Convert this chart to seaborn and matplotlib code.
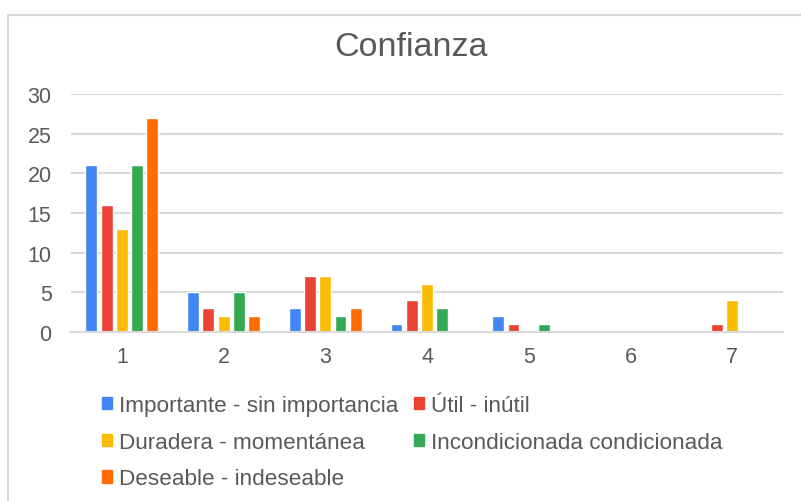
import pandas as pd
import matplotlib.pyplot as plt
import matplotlib.patches as mpatches
import seaborn as sns

# Data
categories = ["1", "2", "3", "4", "5", "6", "7"]
series_names = [
    "Importante - sin importancia",
    "Útil - inútil",
    "Duradera - momentánea",
    "Incondicionada condicionada",
    "Deseable - indeseable",
]
importante = [21, 5, 3, 1, 2, 0, 0]
util = [16, 3, 7, 4, 1, 0, 1]
duradera = [13, 2, 7, 6, 0, 0, 4]
incondicionada = [21, 5, 2, 3, 1, 0, 0]
deseable = [27, 2, 3, 0, 0, 0, 0]
colors = ["#4285F4", "#EA4335", "#FBBC04", "#34A853", "#FF6D01"]


def main():
    values = [importante, util, duradera, incondicionada, deseable]
    rows = []
    for name, vals in zip(series_names, values):
        for cat, v in zip(categories, vals):
            rows.append({"cat": cat, "serie": name, "valor": v})
    df = pd.DataFrame(rows)

    sns.set_style("white")
    plt.rcParams["font.family"] = ["Liberation Sans", "DejaVu Sans"]

    fig = plt.figure(figsize=(8.01, 5.02), dpi=100)
    ax = fig.add_axes([71 / 801, 1 - 333 / 502, 712 / 801, 238 / 502])

    sns.barplot(data=df, x="cat", y="valor", hue="serie", order=categories,
                hue_order=series_names, palette=colors, width=0.75, gap=0.22,
                saturation=1, ax=ax, legend=False)

    ax.set_xlim(-0.5, 6.5)
    ax.set_ylim(0, 30)
    ax.set_yticks(range(0, 31, 5))
    ax.yaxis.grid(True, color="#D9D9D9", linewidth=1.5)
    ax.set_axisbelow(True)
    for s in ["top", "right", "left"]:
        ax.spines[s].set_visible(False)
    ax.spines["bottom"].set_color("#D9D9D9")
    ax.spines["bottom"].set_linewidth(1.5)
    ax.tick_params(length=0, labelsize=15.5, labelcolor="#595959")
    ax.tick_params(axis="y", pad=14)
    ax.tick_params(axis="x", pad=10)
    ax.set_xlabel("")
    ax.set_ylabel("")

    fig.text(411 / 801, 1 - 48 / 502, "Confianza", ha="center", va="center",
             fontsize=24.5, color="#595959")

    # chart border
    fig.patches.append(mpatches.Rectangle((8 / 801, -0.01), 1.0, 1 - 16 / 502 + 0.01,
                                          transform=fig.transFigure, fill=False,
                                          edgecolor="#D9D9D9", linewidth=1.5))

    handles = [mpatches.Patch(color=c, label=n) for c, n in zip(colors, series_names)]
    order = [0, 2, 4, 1, 3]
    fig.legend([handles[i] for i in order], [series_names[i] for i in order],
               loc="upper left", bbox_to_anchor=(93 / 801, 1 - 387 / 502), ncol=2,
               frameon=False, fontsize=16.2, labelcolor="#595959",
               handlelength=0.45, handleheight=0.45, handletextpad=0.3,
               columnspacing=0.7, labelspacing=0.7, borderaxespad=0)

    fig.savefig("out.png", dpi=100)
    plt.close(fig)


if __name__ == "__main__":
    main()
